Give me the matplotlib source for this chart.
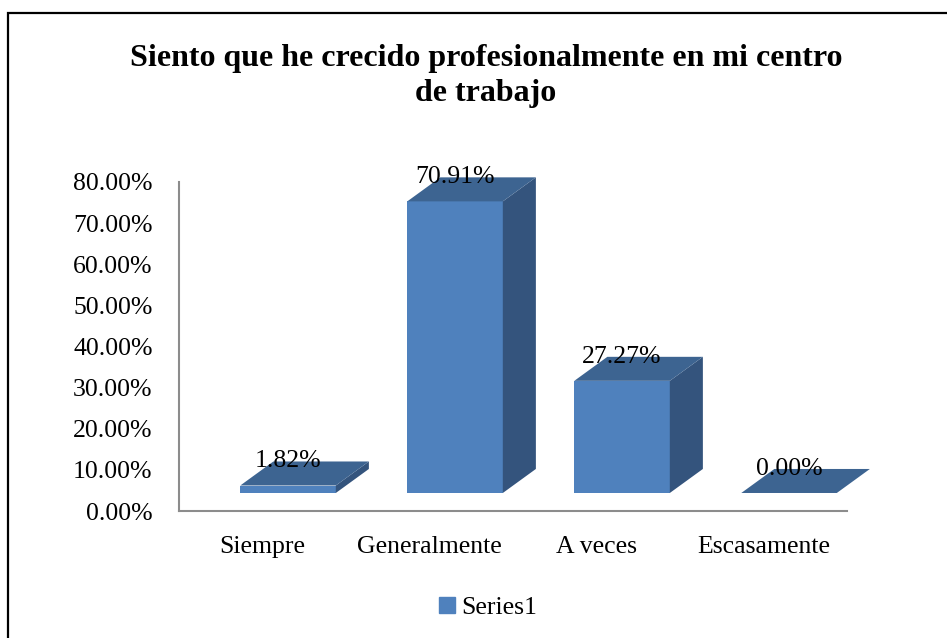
import matplotlib
matplotlib.use("Agg")
import matplotlib.pyplot as plt
from matplotlib.patches import Polygon, Rectangle
from matplotlib.ticker import FuncFormatter

# Datos
categorias = ["Siempre", "Generalmente", "A veces", "Escasamente"]
valores = [1.82, 70.91, 27.27, 0.00]
serie = "Series1"
titulo = "Siento que he crecido profesionalmente en mi centro\nde trabajo"

plt.rcParams["font.family"] = ["Liberation Serif", "DejaVu Serif"]

fig = plt.figure(figsize=(9.47, 6.38), dpi=100)
ax = fig.add_axes([179 / 947, 1 - 511 / 638, 668 / 947, 329 / 638])

ax.set_xlim(-0.5, len(categorias) - 0.5)
ax.set_ylim(0, 80)

# Parametros del efecto 3D (en unidades de datos)
ancho = 0.572
desp_x = 0.153
base = 4.38
prof_x = 0.198
prof_y = 5.84

c_frente = "#4F81BD"
c_arriba = "#3D6491"
c_lado = "#34547D"

for i, v in enumerate(valores):
    x0 = i + desp_x - ancho / 2
    x1 = x0 + ancho
    y0 = base
    y1 = base + v
    # cara frontal
    if v > 0:
        ax.bar(x0, v, width=ancho, bottom=y0, align="edge", color=c_frente,
               edgecolor="none", zorder=3, clip_on=False)
        # cara lateral
        ax.add_patch(Polygon([(x1, y0), (x1 + prof_x, y0 + prof_y),
                              (x1 + prof_x, y1 + prof_y), (x1, y1)],
                             closed=True, facecolor=c_lado, edgecolor="none",
                             zorder=3, clip_on=False))
    # cara superior
    ax.add_patch(Polygon([(x0, y1), (x1, y1), (x1 + prof_x, y1 + prof_y),
                          (x0 + prof_x, y1 + prof_y)],
                         closed=True, facecolor=c_arriba, edgecolor="none",
                         zorder=3, clip_on=False))
    # etiqueta
    ax.text(i + desp_x, y1 + prof_y, f"{v:.2f}%", ha="center", va="center",
            fontsize=18.5, color="black", zorder=5)

ax.set_xticks(range(len(categorias)))
ax.set_xticklabels(categorias, fontsize=18.5)
ax.set_yticks(range(0, 81, 10))
ax.yaxis.set_major_formatter(FuncFormatter(lambda y, p: f"{y:.2f}%"))
ax.tick_params(axis="y", length=0, pad=19, labelsize=18.5)
ax.tick_params(axis="x", length=0, pad=18)

for s in ["top", "right"]:
    ax.spines[s].set_visible(False)
for s in ["left", "bottom"]:
    ax.spines[s].set_color("#8C8C8C")
    ax.spines[s].set_linewidth(1.5)

fig.text(486 / 947, 1 - 76 / 638, titulo, ha="center", va="center",
         fontsize=23, fontweight="bold", linespacing=1.3)

# Leyenda
leg = fig.legend(handles=[Rectangle((0, 0), 1, 1, color=c_frente)], labels=[serie],
                 loc="center", bbox_to_anchor=(488 / 947, 1 - 608 / 638),
                 frameon=False, fontsize=18.5, handlelength=0.6, handleheight=0.6,
                 handletextpad=0.25)

# Borde del grafico
fig.add_artist(Rectangle((8 / 947, -0.1), 1.2, 1.1 - 13 / 638, transform=fig.transFigure,
                         fill=False, edgecolor="black", linewidth=1.6, clip_on=False))

fig.savefig("out.png", dpi=100)
